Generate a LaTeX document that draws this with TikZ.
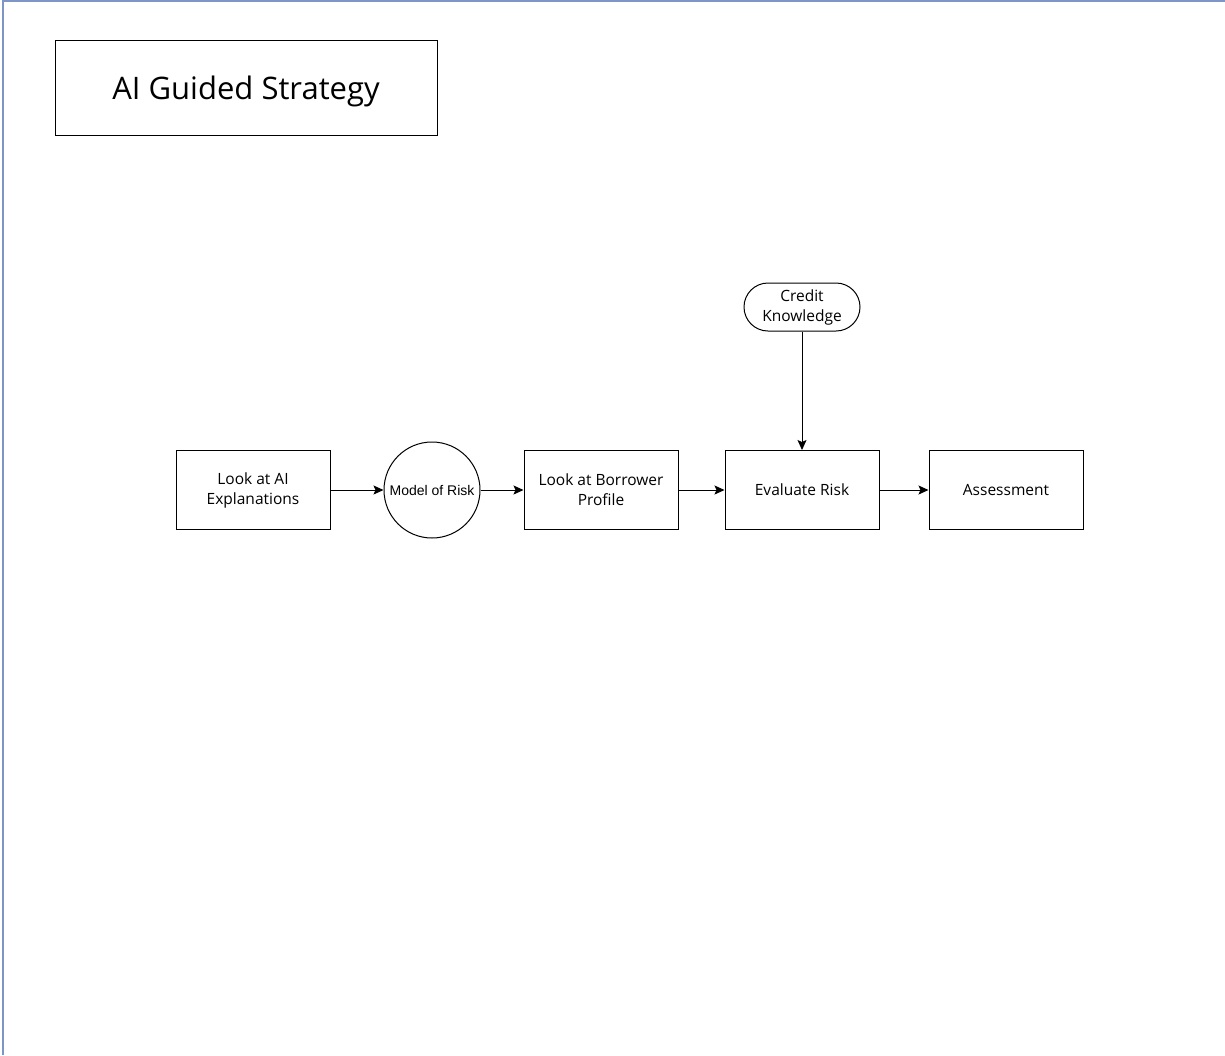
\documentclass[tikz,border=0pt]{standalone}
\usepackage{fontspec}
\setmainfont{Open Sans}[Ligatures=NoCommon]
\newfontfamily\arialfont{Liberation Sans}
\usetikzlibrary{arrows.meta,shapes.misc}
\definecolor{frameblue}{HTML}{7F95C8}
\tikzset{
  proc/.style={draw, line width=1pt, minimum width=154pt, minimum height=79pt,
    align=center, font=\fontsize{15.5}{20}\selectfont, inner sep=2pt},
  flow/.style={draw, line width=1pt, -{Stealth[length=10pt,width=9pt,inset=2pt]}},
}
\begin{document}
\begin{tikzpicture}[x=1pt,y=-1pt]
  \useasboundingbox (0,0) rectangle (1225,1055);
  % page frame edges
  \draw[frameblue, line width=1.5pt] (3,1055) -- (3,1) -- (1225,1);
  % title
  \node[draw, line width=1pt, minimum width=382pt, minimum height=95pt,
    text height=22pt, text depth=0pt,
    font=\fontsize{31}{34}\selectfont] (title) at (246,88) {AI Guided Strategy};
  % process chain
  \node[proc] (expl) at (253,490) {Look at AI\\Explanations};
  \node[draw, circle, line width=1pt, minimum size=96pt, inner sep=0pt,
    font=\arialfont\fontsize{14}{16}\selectfont] (model) at (432,490) {Model of Risk};
  \node[proc] (borrower) at (601,490) {Look at Borrower\\Profile};
  \node[proc] (evaluate) at (802,490) {Evaluate Risk};
  \node[proc] (assess) at (1006,490) {Assessment};
  \node[draw, rounded rectangle, line width=1pt, minimum width=120pt, minimum height=48pt,
    align=center, font=\fontsize{15.5}{20}\selectfont, inner sep=2pt] (credit) at (802,307) {Credit\\Knowledge};
  % connectors
  \draw[flow] (expl) -- (model);
  \draw[flow] (model) -- (borrower);
  \draw[flow] (borrower) -- (evaluate);
  \draw[flow] (evaluate) -- (assess);
  \draw[flow] (credit) -- (evaluate);
\end{tikzpicture}
\end{document}
